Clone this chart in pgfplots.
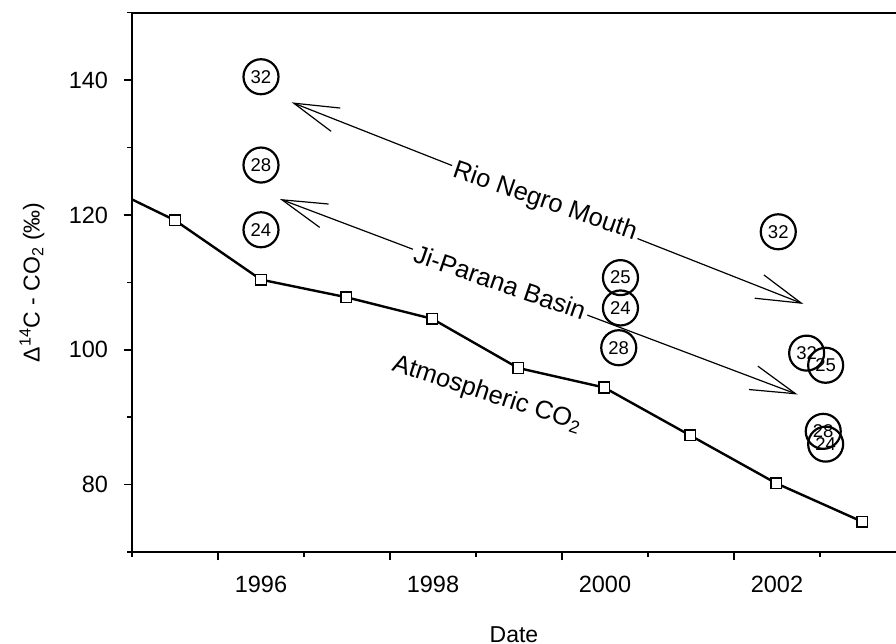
\documentclass[border=0pt]{standalone}
\usepackage{fontspec}
\setmainfont{Liberation Sans}
\usepackage{pgfplots}
\pgfplotsset{compat=1.18}
\usetikzlibrary{arrows.meta}
\begin{document}
\begin{tikzpicture}[x=1pt,y=1pt]
\path[use as bounding box] (-132,-92) rectangle (764,552);
\clip (-132,-92) rectangle (764,552);
\begin{axis}[
  at={(0,0)}, anchor=south west,
  scale only axis, width=764pt, height=539.3pt,
  xmin=1995, xmax=2003.884, ymin=70, ymax=150,
  axis y line*=left, axis x line*=box,
  xtick pos=left, ytick pos=left,
  tick align=outside,
  xtick={1996,1998,2000,2002},
  minor xtick={1995,1997,1999,2001,2003},
  ytick={80,100,120,140},
  minor ytick={70,90,110,130,150},
  major tick length=8.5pt, minor tick length=5pt,
  every tick/.style={black, line width=1.5pt},
  axis line style={line width=2pt, -},
  xticklabel style={xshift=43pt, yshift=-12pt},
  yticklabel style={xshift=-12pt},
  ticklabel style={font=\fontsize{23.5}{27}\selectfont},
  /pgf/number format/assume math mode=true,
  /pgf/number format/1000 sep={},
  xlabel={Date},
  xlabel style={at={(rel axis cs:0.5,0)}, anchor=north, inner sep=0pt, yshift=-74pt},
  ylabel={Δ\textsuperscript{14}C - CO\textsubscript{2} (‰)},
  ylabel style={at={(rel axis cs:-0.1309,0.5)}, anchor=center, inner sep=0pt},
  label style={font=\fontsize{23}{27}\selectfont},
]
\addplot[black, line width=2.4pt] coordinates {(1995.0,122.3) (1995.5,119.2)};
\addplot[black, line width=2.4pt, mark=square*, mark size=5.3pt,
  mark options={fill=white, line width=1.5pt, solid}] coordinates {
  (1995.5,119.2) (1996.5,110.4) (1997.49,107.8) (1998.49,104.6) (1999.49,97.3)
  (2000.49,94.4) (2001.49,87.3) (2002.49,80.2) (2003.49,74.5)};
\addplot[draw=none, mark=none, nodes near coords, point meta=explicit symbolic,
  every node near coord/.append style={circle, draw=black, line width=2.2pt,
    minimum size=35pt, inner sep=0pt, anchor=center, font=\fontsize{18.5}{18.5}\selectfont}]
  table[meta=lab] {
x y lab
1996.5 140.5 32
1996.5 127.4 28
1996.5 117.8 24
2002.515 117.5 32
2000.68 110.7 25
2000.68 106.2 24
2000.66 100.3 28
2002.845 99.5 32
2003.066 97.7 25
2003.038 87.9 28
2003.066 86.0 24
};
\draw[line width=1.2pt, {Straight Barb[length=45pt,width=25pt]}-{Straight Barb[length=45pt,width=25pt]}]
  (axis cs:1996.857,136.7) -- (axis cs:2002.806,106.8);
\draw[line width=1.2pt, {Straight Barb[length=45pt,width=25pt]}-{Straight Barb[length=45pt,width=25pt]}]
  (axis cs:1996.72,122.36) -- (axis cs:2002.74,93.36);
\node[fill=white, inner sep=3pt, rotate=-19, font=\fontsize{25.5}{25.5}\selectfont]
  at (axis cs:1999.80,121.9) {Rio Negro Mouth};
\node[fill=white, inner sep=3pt, rotate=-19, font=\fontsize{25.5}{25.5}\selectfont]
  at (axis cs:1999.28,110.0) {Ji-Parana Basin};
\node[inner sep=0pt, rotate=-18, font=\fontsize{25.5}{25.5}\selectfont]
  at (axis cs:1999.13,93.4) {Atmospheric CO\textsubscript{2}};
\end{axis}
\end{tikzpicture}
\end{document}
